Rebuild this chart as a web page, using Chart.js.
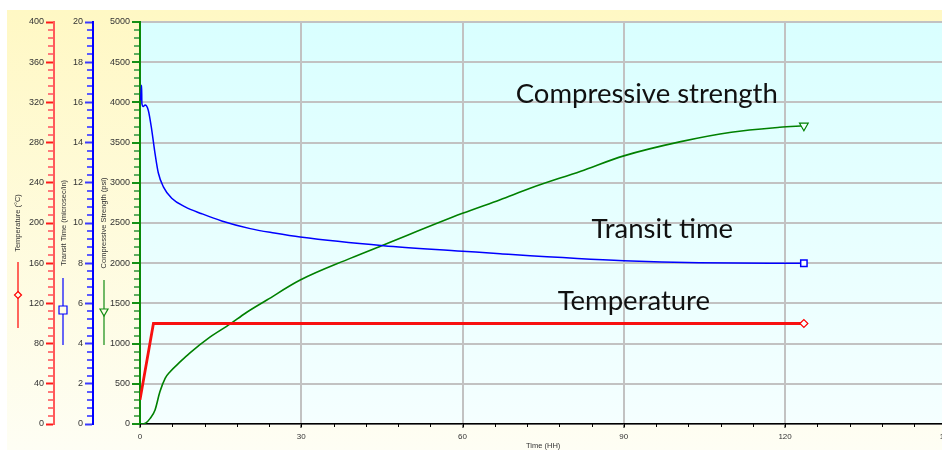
<!DOCTYPE html>
<html>
<head>
<meta charset="utf-8">
<script src="https://cdn.jsdelivr.net/npm/chart.js@4.4.0/dist/chart.umd.min.js"></script>
<style>
    html, body { margin: 0; padding: 0; background: #fff; overflow: hidden; }
</style>
</head>
<body>
<canvas id="myChart" width="957" height="450"></canvas>
<script>
// time axis, hours
const timeTicks = [0, 30, 60, 90, 120, 150];

// temperature (°C)
const tempHours = [0, 2.5, 123.5];
const tempValues = [24, 100, 100];

// transit time (microsec/in)
const transitHours = [0.1, 0.3, 0.35, 0.6, 0.95, 1.55, 2.2, 2.8, 3.4, 4.35, 5.9, 8.4, 11.5, 15.2, 20.5, 25, 29.8, 45.3, 60, 67, 90, 104, 123.5];
const transitValues = [16.1, 16.85, 15.95, 15.8, 15.87, 15.6, 14.6, 13.45, 12.5, 11.8, 11.23, 10.8, 10.46, 10.1, 9.72, 9.5, 9.3, 8.87, 8.6, 8.47, 8.12, 8.02, 8.0];

// compressive strength (psi)
const strengthHours = [0, 1, 1.9, 2.8, 3.7, 4.7, 5.6, 7.5, 9.3, 13, 16.8, 19.6, 23.6, 29.8, 39.1, 45.3, 60, 67, 72.7, 82, 90, 100.6, 110, 119, 123.5];
const strengthValues = [0, 10, 70, 175, 400, 570, 650, 775, 885, 1080, 1245, 1378, 1542, 1790, 2060, 2227, 2620, 2790, 2935, 3145, 3335, 3512, 3629, 3690, 3710];

// text labels placed on the plot: [text, hours, value, axis]
const curveLabels = [
    ["Compressive strength", 69.9, 3990, "yStrength"],
    ["Transit time", 84, 9.25, "yTransit"],
    ["Temperature", 77.7, 113, "yTemp"],
];

const FONT = "'Liberation Sans', Arial, sans-serif";
Chart.defaults.font.family = FONT;

function toPoints(xs, ys) {
    return xs.map((x, i) => ({ x: x, y: ys[i] }));
}
// marker only on the last point of a curve
const lastOnly = (r) => (c) => c.dataIndex === c.dataset.data.length - 1 ? r : 0;

// background: white margin, yellow panel, cyan plot
const backdrop = {
    id: "backdrop",
    beforeDraw(chart) {
        const { ctx, chartArea: a, width, height } = chart;
        ctx.save();
        ctx.fillStyle = "#fff";
        ctx.fillRect(0, 0, width, height);
        let g = ctx.createLinearGradient(0, 10, 0, height);
        g.addColorStop(0, "#fff8c4");
        g.addColorStop(1, "#fefef4");
        ctx.fillStyle = g;
        ctx.fillRect(7, 10, width - 7, height - 10);
        g = ctx.createLinearGradient(0, a.top, 0, a.bottom);
        g.addColorStop(0, "#d9ffff");
        g.addColorStop(1, "#f5ffff");
        ctx.fillStyle = g;
        ctx.fillRect(a.left, a.top, a.right - a.left, a.bottom - a.top);
        ctx.restore();
    },
};

// minor ticks + little legend keys beside the axis titles
const extras = {
    id: "extras",
    afterDraw(chart) {
        const { ctx, scales } = chart;
        ctx.save();
        ctx.lineWidth = 2;

        const yMinor = [
            ["yTemp", 8, 40, "#ff7a7a"],
            ["yTransit", 0.4, 2, "#5c5cff"],
            ["yStrength", 100, 500, "#60ad60"],
        ];
        yMinor.forEach(([id, step, major, color]) => {
            const s = scales[id];
            ctx.strokeStyle = color;
            const n = Math.round((s.max - s.min) / step);
            for (let i = 0; i <= n; i++) {
                const v = s.min + i * step;
                if (Math.abs(v / major - Math.round(v / major)) < 1e-6) continue;
                const y = Math.round(s.getPixelForValue(v));
                ctx.beginPath();
                ctx.moveTo(s.right - 6, y);
                ctx.lineTo(s.right - 1, y);
                ctx.stroke();
            }
        });

        const sx = scales.x;
        ctx.strokeStyle = "#000";
        ctx.lineWidth = 1;
        for (let i = 0; i <= 25; i++) {
            const px = Math.round(sx.getPixelForValue(i * 6)) + 0.5;
            ctx.beginPath();
            ctx.moveTo(px, sx.top);
            ctx.lineTo(px, sx.top + 3);
            ctx.stroke();
        }

        // legend keys
        const mid = (chart.chartArea.top + chart.chartArea.bottom) / 2;
        const keys = [
            ["yTemp", 18, 39, 105, 72, "#ff0000", "diamond"],
            ["yTransit", 9, 55, 122, 87, "#0000ff", "square"],
            ["yStrength", 11, 57, 122, 89, "#128c12", "triangle"],
        ];
        keys.forEach(([id, dx, y0, y1, ym, color, shape]) => {
            const s = scales[id];
            const x = s.left + dx;
            ctx.strokeStyle = color;
            ctx.lineWidth = 1.2;
            ctx.beginPath();
            ctx.moveTo(x, mid + y0);
            ctx.lineTo(x, mid + y1);
            ctx.stroke();
            const y = mid + ym;
            ctx.fillStyle = "#fffde8";
            ctx.beginPath();
            if (shape === "diamond") {
                ctx.moveTo(x, y - 3.5); ctx.lineTo(x + 3.5, y);
                ctx.lineTo(x, y + 3.5); ctx.lineTo(x - 3.5, y);
            } else if (shape === "square") {
                ctx.rect(x - 4, y - 4, 8, 8);
            } else {
                ctx.moveTo(x - 4, y - 3); ctx.lineTo(x + 4, y - 3); ctx.lineTo(x, y + 4);
            }
            ctx.closePath();
            ctx.fill();
            ctx.stroke();
        });

        // curve names
        ctx.fillStyle = "#111";
        ctx.font = "27.5px Lato, 'Open Sans', sans-serif";
        ctx.textAlign = "left";
        ctx.textBaseline = "alphabetic";
        curveLabels.forEach(([text, hx, v, id]) => {
            ctx.fillText(text, sx.getPixelForValue(hx), scales[id].getPixelForValue(v));
        });
        ctx.restore();
    },
};

function yAxis(min, max, step, title, color, tickColor, weight, titlePad, width) {
    return {
        type: "linear",
        position: "left",
        weight: weight,
        min: min,
        max: max,
        ticks: {
            stepSize: step,
            color: "#333",
            padding: 2,
            font: { size: 9 },
            callback: (v) => String(v),
        },
        grid: {
            drawOnChartArea: false,
            tickLength: 8,
            tickColor: tickColor,
            tickWidth: 2,
        },
        border: { color: color, width: 2 },
        title: {
            display: true,
            text: title,
            color: "#333",
            font: { size: 7.5 },
            padding: { top: titlePad, bottom: 0 },
        },
        afterFit(scale) {
            scale.width = width;
        },
    };
}

const scaleStrength = yAxis(0, 5000, 500, "Compressive Strength (psi)", "#0a8a0a", "#169016", 1, 6.5, 47);
scaleStrength.grid.drawOnChartArea = true;
scaleStrength.grid.color = "#c2c2c2";
scaleStrength.grid.lineWidth = 2;

new Chart(document.getElementById("myChart"), {
    type: "line",
    data: {
        datasets: [
            {
                label: "Temperature",
                yAxisID: "yTemp",
                data: toPoints(tempHours, tempValues),
                borderColor: "#f81010",
                borderWidth: 2.8,
                tension: 0,
                pointStyle: "rectRot",
                pointRadius: lastOnly(4),
                pointBackgroundColor: "#f8ffff",
                pointBorderColor: "#ff0000",
                pointBorderWidth: 1.2,
            },
            {
                label: "Transit time",
                yAxisID: "yTransit",
                data: toPoints(transitHours, transitValues),
                borderColor: "#0000ff",
                borderWidth: 1.5,
                cubicInterpolationMode: "monotone",
                pointStyle: "rect",
                pointRadius: lastOnly(4.5),
                pointBackgroundColor: "#f8ffff",
                pointBorderColor: "#0000ff",
                pointBorderWidth: 1.5,
            },
            {
                label: "Compressive strength",
                yAxisID: "yStrength",
                data: toPoints(strengthHours, strengthValues),
                borderColor: "#008000",
                borderWidth: 1.6,
                cubicInterpolationMode: "monotone",
                pointStyle: "triangle",
                pointRotation: 180,
                pointRadius: lastOnly(5),
                pointBackgroundColor: "#f0ffff",
                pointBorderColor: "#008000",
                pointBorderWidth: 1.2,
            },
        ],
    },
    options: {
        responsive: false,
        animation: false,
        layout: { padding: { left: 0, top: 22, right: 0, bottom: 0 } },
        plugins: {
            legend: { display: false },
            tooltip: { enabled: false },
        },
        scales: {
            x: {
                type: "linear",
                min: 0,
                max: 150,
                afterBuildTicks(scale) {
                    scale.ticks = timeTicks.map((v) => ({ value: v }));
                },
                ticks: { color: "#333", padding: 4, font: { size: 8 } },
                grid: {
                    color: "#c2c2c2",
                    lineWidth: 2,
                    tickLength: 4,
                    tickColor: "#000",
                    tickWidth: 1,
                },
                border: { color: "#000", width: 1.5 },
                title: {
                    display: true,
                    text: "Time (HH)",
                    color: "#333",
                    font: { size: 7.5 },
                    padding: { top: 0, bottom: 0 },
                },
                afterFit(scale) {
                    scale.height = 26;
                },
            },
            yStrength: scaleStrength,
            yTransit: yAxis(0, 20, 2, "Transit Time (microsec/in)", "#0000ff", "#3a3aff", 2, 5.5, 39),
            yTemp: yAxis(0, 400, 40, "Temperature (\u00b0C)", "#ff5a5a", "#ff1a1a", 3, 13, 54),
        },
    },
    plugins: [backdrop, extras],
});
</script>
</body>
</html>
